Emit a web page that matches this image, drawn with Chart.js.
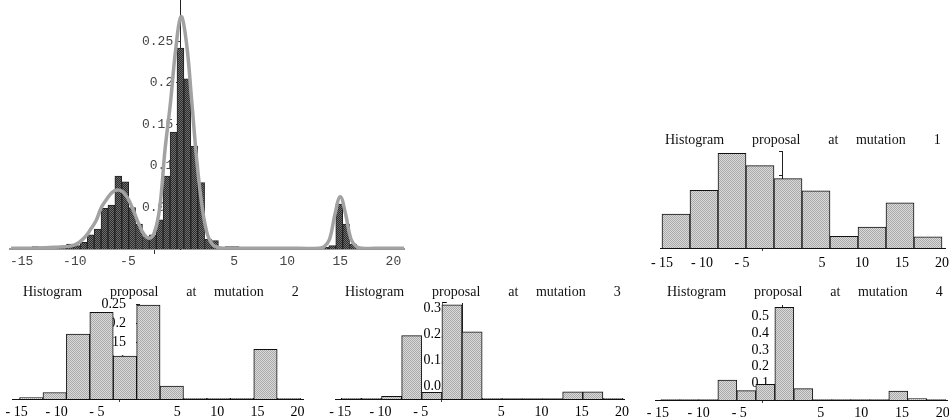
<!DOCTYPE html>
<html>
<head>
<meta charset="utf-8">
<script src="https://cdn.jsdelivr.net/npm/chart.js@4.4.1/dist/chart.umd.min.js"></script>
<style>
  html, body { margin: 0; padding: 0; background: #fff; }
  #page { position: relative; width: 949px; height: 418px; overflow: hidden; background: #fff; }
  canvas { position: absolute; }
</style>
</head>
<body>
<div id="page">
  <canvas id="mainChart" width="415" height="268" style="left:0;top:0"></canvas>
  <canvas id="mut1Chart" width="309" height="170" style="left:640px;top:100px"></canvas>
  <canvas id="mut2Chart" width="315" height="138" style="left:0;top:280px"></canvas>
  <canvas id="mut3Chart" width="315" height="138" style="left:320px;top:280px"></canvas>
  <canvas id="mut4Chart" width="309" height="138" style="left:640px;top:280px"></canvas>
</div>
<script>
// big panel: histogram of the sample, bins 0.65 wide, plus fitted density
const mainBinStart = -14.35;   // centre of the first bin
const mainBinWidth = 0.65;
const mainFreq = [0.001, 0.003, 0.001, 0.002, 0.002, 0.002, 0.006, 0.004, 0.008, 0.017,
                  0.024, 0.049, 0.053, 0.088, 0.081, 0.050, 0.030, 0.015, 0.017, 0.035,
                  0.088, 0.141, 0.242, 0.205, 0.124, 0.080, 0.012, 0.010, 0.002, 0.003,
                  0.003, 0.001, 0.001, 0.001, 0.001, 0.001, 0.001, 0.001, 0.001, 0.001,
                  0.001, 0.001, 0.001, 0.002, 0.004, 0.054, 0.030, 0.006, 0.002, 0.002,
                  0.001, 0.001, 0.001];
const curveX = [-16, -14, -12, -10, -9, -8.5, -8, -7.5, -7, -6.5, -6, -5.5, -5, -4.5, -4, -3.5, -3,
                -2.5, -2, -1.5, -1, -0.5, 0, 0.5, 1, 1.5, 2, 2.5, 3, 3.5, 4, 6, 10, 13, 13.5, 14,
                14.5, 15, 15.5, 16, 16.5, 17, 19, 21];
const curveY = [0.001, 0.001, 0.002, 0.005, 0.015, 0.024, 0.034, 0.050, 0.060, 0.068, 0.071, 0.069,
                0.061, 0.047, 0.031, 0.018, 0.013, 0.020, 0.050, 0.120, 0.175, 0.240, 0.280, 0.250,
                0.180, 0.105, 0.050, 0.017, 0.005, 0.002, 0.001, 0.001, 0.001, 0.001, 0.003, 0.012,
                0.042, 0.063, 0.042, 0.012, 0.003, 0.001, 0.001, 0.001];
const mainYTicks = [0.05, 0.1, 0.15, 0.2, 0.25];
const xTicks = [-15, -10, -5, 0, 5, 10, 15, 20];

// proposal histograms, bins spread evenly over [-15, 20]
const mut1Freq = [0.070, 0.119, 0.195, 0.170, 0.143, 0.118, 0.024, 0.043, 0.093, 0.023];
const mut2Freq = [0.004, 0.017, 0.171, 0.228, 0.113, 0.247, 0.034, 0.002, 0.002, 0.002, 0.131, 0.002];
const mut3Freq = [0.003, 0.003, 0.010, 0.244, 0.026, 0.363, 0.259, 0.003, 0.002, 0.002, 0.002,
                  0.028, 0.028, 0.003];
const mut4Freq = [0.002, 0.002, 0.002, 0.120, 0.056, 0.094, 0.556, 0.068, 0.002, 0.002, 0.002,
                  0.002, 0.054, 0.008, 0.002];
const mut1YTicks = [0.05, 0.1, 0.15, 0.2];
const mut2YTicks = [0.05, 0.1, 0.15, 0.2, 0.25];
const mut3YTicks = [0.05, 0.1, 0.15, 0.2, 0.25, 0.3, 0.35];
const mut4YTicks = [0.1, 0.2, 0.3, 0.4, 0.5];

Chart.defaults.font.family = '"Liberation Serif", serif';
Chart.defaults.color = '#000';

function halftone(c1, c2) {
    const p = document.createElement('canvas');
    p.width = 2; p.height = 2;
    const g = p.getContext('2d');
    g.fillStyle = c1; g.fillRect(0, 0, 2, 2);
    g.fillStyle = c2; g.fillRect(0, 0, 1, 1); g.fillRect(1, 1, 1, 1);
    return g.createPattern(p, 'repeat');
}
const darkFill = halftone('#2c2c2c', '#6e6e6e');
const lightFill = halftone('#dadada', '#a9a9a9');

const panelTitle = {
    id: 'panelTitle',
    afterDraw(chart, args, opts) {
        if (!opts.text) return;
        const ctx = chart.ctx;
        ctx.save();
        ctx.font = '14px "Liberation Serif"';
        ctx.fillStyle = '#111';
        ctx.textBaseline = 'middle';
        ctx.fillText(opts.text, opts.x, opts.y);
        ctx.restore();
    }
};

const setTicks = (list) => (scale) => { scale.ticks = list.map(v => ({ value: v })); };
const noPad = (scale) => { scale.paddingLeft = 0; scale.paddingRight = 0; scale.paddingTop = 0; scale.paddingBottom = 0; };
const fixHeight = (h) => (scale) => { scale.height = h; noPad(scale); };
// y axes sit at x = 0 inside the plot, they must not eat layout space
const flatY = (scale) => { scale.width = 0; noPad(scale); };
const zeroTickOnly = (col) => (c) => (c.tick && c.tick.value === 0) ? col : 'rgba(0,0,0,0)';

// main panel
const mainData = mainFreq.map((v, i) => ({ x: mainBinStart + i * mainBinWidth, y: v }));
const curveData = curveX.map((x, i) => ({ x: x, y: curveY[i] }));
const monoFont = { family: '"Liberation Mono", monospace', size: 13 };

new Chart(document.getElementById('mainChart'), {
    type: 'bar',
    data: {
        datasets: [
            {
                type: 'line', data: curveData, order: 0,
                borderColor: '#a2a2a2', borderWidth: 3.5, pointRadius: 0, tension: 0.4, fill: false
            },
            {
                data: mainData, order: 1,
                backgroundColor: darkFill, borderColor: '#222', borderWidth: 1,
                barPercentage: 1, categoryPercentage: 1
            }
        ]
    },
    options: {
        responsive: false, animation: false, devicePixelRatio: 1,
        layout: { padding: { left: 10, right: 11, top: 0, bottom: 0 }, autoPadding: false },
        plugins: { legend: { display: false }, tooltip: { enabled: false } },
        scales: {
            x: {
                type: 'linear', min: -16.1, max: 21, offset: false,
                afterBuildTicks: setTicks(xTicks), afterFit: fixHeight(19),
                grid: { drawOnChartArea: false, drawTicks: true, tickLength: 5, color: zeroTickOnly('#333') },
                border: { display: true, color: '#9a9a9a', width: 2 },
                ticks: { font: monoFont, color: '#444', padding: 0, maxRotation: 0,
                         callback: v => v === 0 ? '' : String(v) }
            },
            y: {
                type: 'linear', min: 0, max: 0.3, position: { x: 0 },
                afterBuildTicks: setTicks(mainYTicks), afterFit: flatY,
                grid: { drawOnChartArea: false, drawTicks: true, tickLength: 4, color: '#333' },
                border: { display: true, color: '#222', width: 1 },
                ticks: { font: monoFont, color: '#444', padding: 0, callback: v => String(v) + ' ' }
            }
        }
    }
});

function makeHistPanel(id, freq, cfg) {
    const w = 35 / freq.length;
    const data = freq.map((v, i) => ({ x: -15 + w * (i + 0.5), y: v }));
    return new Chart(document.getElementById(id), {
        type: 'bar',
        data: {
            datasets: [{
                data: data, backgroundColor: lightFill, borderColor: '#111', borderWidth: 1,
                barPercentage: 1, categoryPercentage: 1
            }]
        },
        options: {
            responsive: false, animation: false, devicePixelRatio: 1,
            layout: { padding: cfg.padding, autoPadding: false },
            plugins: {
                legend: { display: false }, tooltip: { enabled: false },
                panelTitle: { text: cfg.title, x: cfg.titleX, y: cfg.titleY }
            },
            scales: {
                x: {
                    type: 'linear', min: cfg.xMin, max: cfg.xMax, offset: false,
                    afterBuildTicks: setTicks(xTicks), afterFit: fixHeight(cfg.axisH),
                    grid: { drawOnChartArea: false, drawTicks: true, tickLength: 3, color: zeroTickOnly('#444') },
                    border: { display: true, color: '#111', width: 1 },
                    ticks: { font: { size: 14 }, color: '#000', padding: cfg.xPad, maxRotation: 0,
                             labelOffset: cfg.labelShift,
                             callback: v => v < 0 ? '- ' + (-v) : (v === 0 ? '' : String(v)) }
                },
                y: {
                    type: 'linear', min: 0, max: cfg.yMax, position: { x: 0 },
                    afterBuildTicks: setTicks(cfg.yTicks), afterFit: flatY,
                    grid: { drawOnChartArea: false, drawTicks: true, tickLength: 3, color: '#222' },
                    border: { display: true, color: '#222', width: 1 },
                    ticks: { display: cfg.yLabels, font: { size: 14 }, color: '#000', padding: 0,
                             callback: v => String(v) + '    ' }
                }
            }
        },
        plugins: [panelTitle]
    });
}

makeHistPanel('mut1Chart', mut1Freq, {
    title: 'Histogram        proposal        at     mutation        1', titleX: 25, titleY: 40,
    padding: { left: 20, right: 4, top: 51, bottom: 0 }, xMin: -15.25, xMax: 20.375, axisH: 22, xPad: 4,
    labelShift: 0, yMax: 0.2, yTicks: mut1YTicks, yLabels: false
});
makeHistPanel('mut2Chart', mut2Freq, {
    title: 'Histogram        proposal        at     mutation        2', titleX: 23, titleY: 12,
    padding: { left: 12, right: 12, top: 24, bottom: 0 }, xMin: -15.94, xMax: 20.3, axisH: 19, xPad: 2,
    labelShift: -3, yMax: 0.25, yTicks: mut2YTicks, yLabels: true
});
makeHistPanel('mut3Chart', mut3Freq, {
    title: 'Histogram        proposal        at     mutation        3', titleX: 25, titleY: 12,
    padding: { left: 15, right: 11, top: 23, bottom: 0 }, xMin: -15.78, xMax: 20.12, axisH: 19, xPad: 2,
    labelShift: -1, yMax: 0.37, yTicks: mut3YTicks, yLabels: true
});
makeHistPanel('mut4Chart', mut4Freq, {
    title: 'Histogram        proposal        at     mutation        4', titleX: 27, titleY: 12,
    padding: { left: 15, right: 2, top: 25, bottom: 0 }, xMin: -15.72, xMax: 20.15, axisH: 18, xPad: 2,
    labelShift: -3, yMax: 0.57, yTicks: mut4YTicks, yLabels: true
});
</script>
</body>
</html>
